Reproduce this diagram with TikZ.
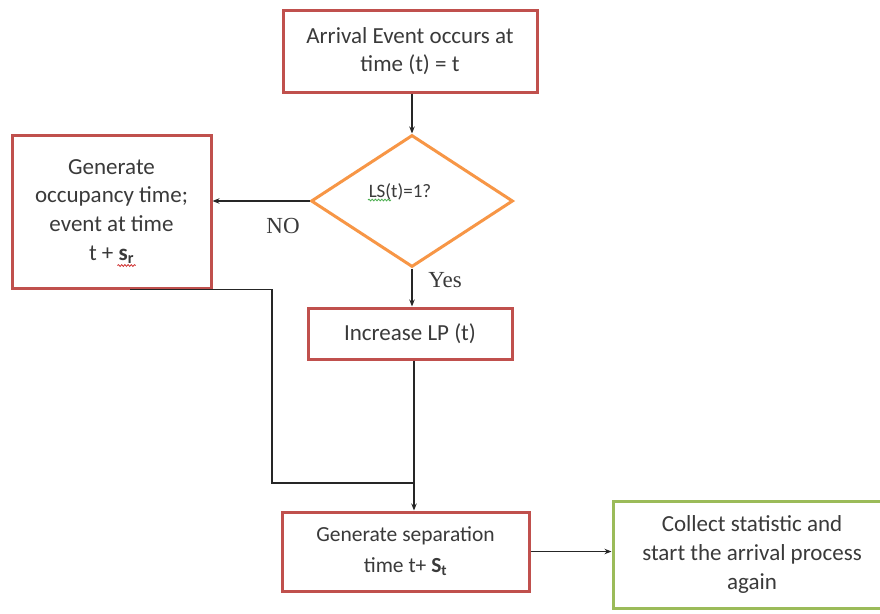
\documentclass[tikz,border=0pt]{standalone}
\usepackage{fontspec}
\setmainfont{Carlito}
\newfontfamily\labelserif{Liberation Serif}
\usetikzlibrary{shapes.geometric,arrows.meta,decorations.pathmorphing}

\definecolor{boxred}{HTML}{C0504D}
\definecolor{decorange}{HTML}{F79646}
\definecolor{endgreen}{HTML}{9BBB59}
\definecolor{txtgray}{HTML}{3A3A3A}
\definecolor{linegray}{HTML}{262626}
\definecolor{spellred}{HTML}{D03030}
\definecolor{spellgreen}{HTML}{4CAF50}

\begin{document}
\begin{tikzpicture}[x=1pt,y=-1pt,
  procbox/.style={draw=boxred, line width=3pt, fill=white, inner sep=0pt,
    align=center, text=txtgray, font=\fontsize{23}{27.5}\selectfont},
  endbox/.style={procbox, draw=endgreen},
  decbox/.style={draw=decorange, line width=3pt, diamond, fill=white,
    inner sep=0pt, minimum width=202pt, minimum height=132pt},
  conn/.style={draw=linegray, line width=1.4pt},
  arr/.style={conn, -{Stealth[length=7pt,width=5.5pt]}},
  branch/.style={font=\labelserif\fontsize{23}{26}\selectfont, text=txtgray},
  squiggle/.style={line width=0.8pt, decorate,
    decoration={snake, amplitude=0.9pt, segment length=3.2pt}}
]
\useasboundingbox (0,0) rectangle (880,613);
\clip (0,0) rectangle (880,613);

% process boxes
\node[procbox, minimum width=254pt, minimum height=82pt] (top) at (410,51)
  {Arrival Event occurs at\\time (t) = t};
\node[decbox] (dia) at (412,201) {};
\node[text=txtgray, font=\fontsize{19}{22}\selectfont] (diatext) at (400,192) {LS(t)=1?};
\node[procbox, minimum width=199pt, minimum height=153pt,
  font=\fontsize{23}{28.7}\selectfont] (left) at (111.5,211.5)
  {Generate\\occupancy time;\\event at time\\t + {\bfseries s}\textsubscript{\bfseries r}};
\node[procbox, minimum width=204pt, minimum height=51pt] (inc) at (410,333.5)
  {Increase LP (t)};
\node[procbox, minimum width=247pt, minimum height=79pt,
  font=\fontsize{21.5}{31}\selectfont] (sep) at (405.5,551.5)
  {Generate separation\\time t+ {\bfseries S}\textsubscript{\bfseries t}};
\node[endbox, minimum width=278pt, minimum height=107pt,
  font=\fontsize{23}{29}\selectfont] (done) at (752,554.5)
  {Collect statistic and\\start the arrival process\\again};

% spell-check underlines
\draw[squiggle, spellgreen] ([xshift=-32pt,yshift=-8pt]diatext.center) -- ++(23,0);
\draw[squiggle, spellred] ([xshift=6pt,yshift=24pt]left.south) -- ++(18,0);

% branch labels
\node[branch] (nolab) at (283,226) {NO};
\node[branch] (yeslab) at (445,280) {Yes};

% connectors
\draw[arr] (dia.north |- top.south) -- (dia.north);
\draw[arr] (dia.west) -- (left.east |- dia.west);
\draw[arr] (dia.south) -- (dia.south |- inc.north);

\coordinate (join) at (414,483);
\coordinate (lx) at (130,0);
\coordinate (cx) at (272,0);
\draw[conn] (inc.south -| join) -- (join);
\draw[conn] (left.south -| lx) -| (cx |- join) -- (join);
\draw[arr] (join) -- (sep.north -| join);
\draw[arr] (sep.east) -- (done.west |- sep.east);
\end{tikzpicture}
\end{document}
